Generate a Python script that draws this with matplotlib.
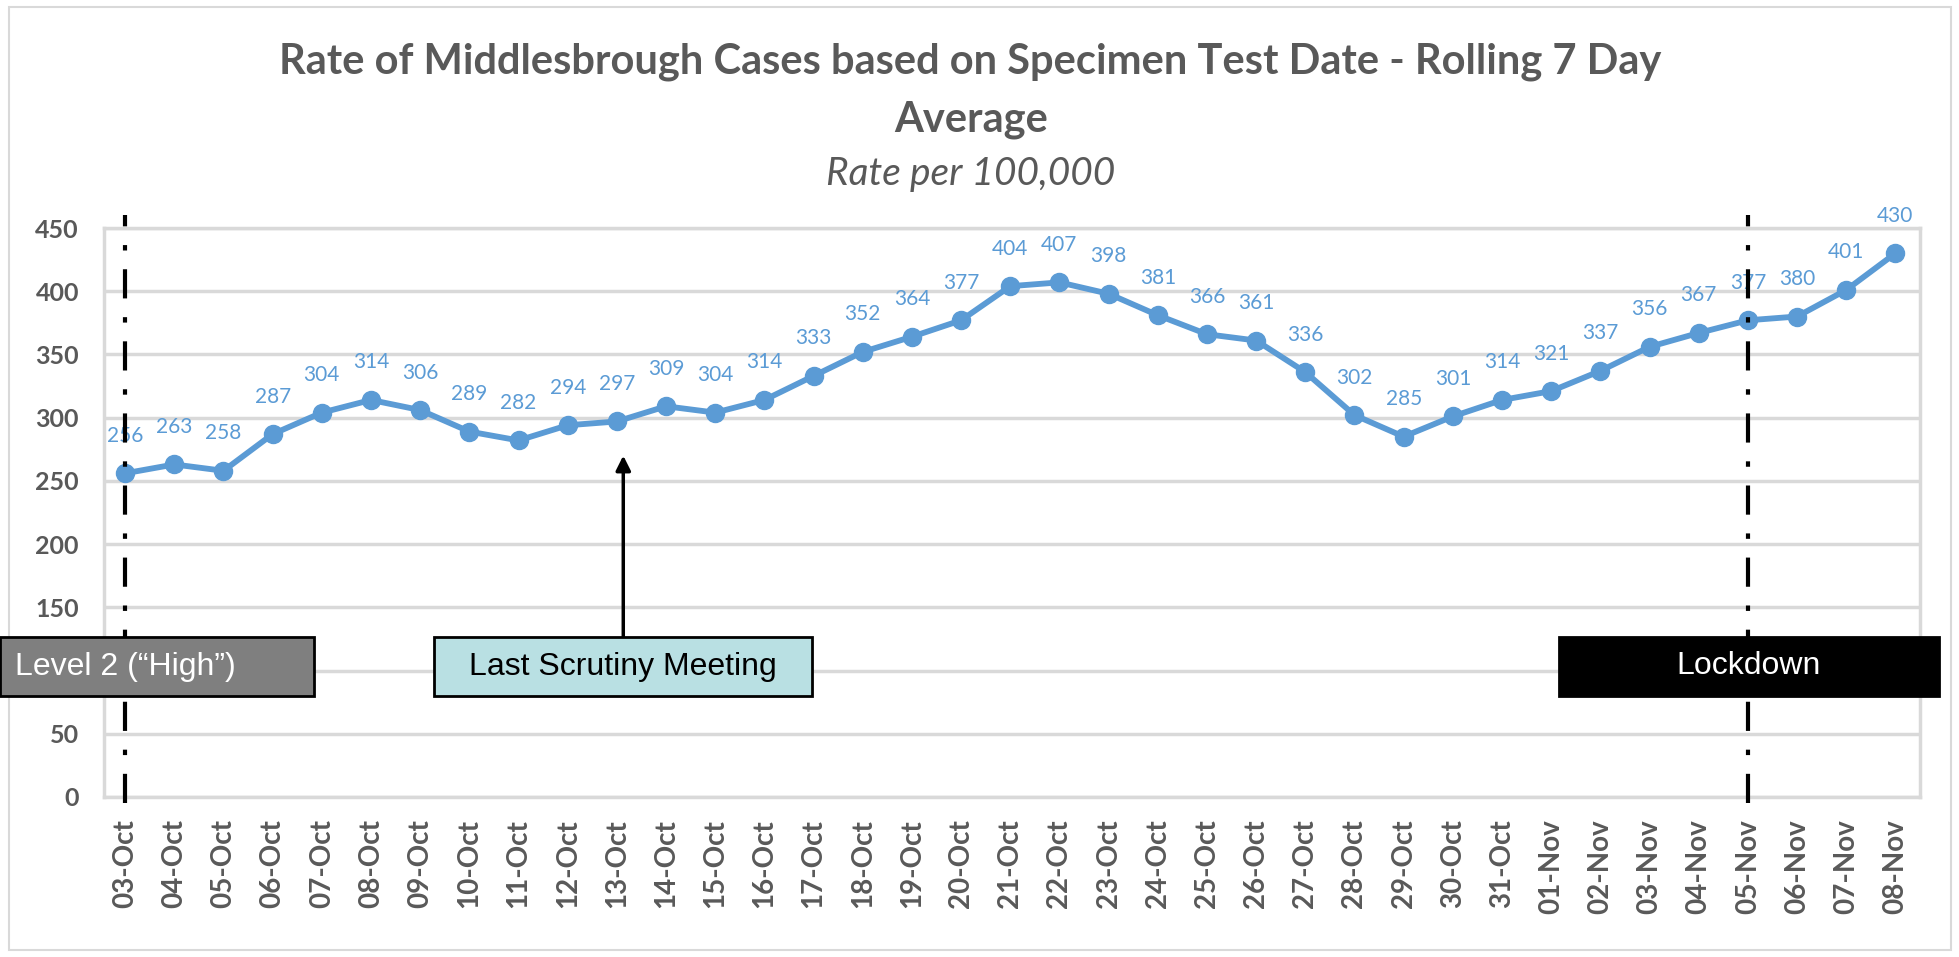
import matplotlib
matplotlib.use("Agg")
from matplotlib import pyplot as plt
from matplotlib.patches import Rectangle

# data
dates = ["03-Oct", "04-Oct", "05-Oct", "06-Oct", "07-Oct", "08-Oct", "09-Oct",
         "10-Oct", "11-Oct", "12-Oct", "13-Oct", "14-Oct", "15-Oct", "16-Oct",
         "17-Oct", "18-Oct", "19-Oct", "20-Oct", "21-Oct", "22-Oct", "23-Oct",
         "24-Oct", "25-Oct", "26-Oct", "27-Oct", "28-Oct", "29-Oct", "30-Oct",
         "31-Oct", "01-Nov", "02-Nov", "03-Nov", "04-Nov", "05-Nov", "06-Nov",
         "07-Nov", "08-Nov"]
rates = [256, 263, 258, 287, 304, 314, 306, 289, 282, 294, 297, 309, 304, 314,
         333, 352, 364, 377, 404, 407, 398, 381, 366, 361, 336, 302, 285, 301,
         314, 321, 337, 356, 367, 377, 380, 401, 430]
y_ticks = [0, 50, 100, 150, 200, 250, 300, 350, 400, 450]

level2_date = "03-Oct"
scrutiny_date = "13-Oct"
lockdown_date = "05-Nov"

W, H = 1959, 957
BLUE = "#5B9BD5"
GREY_TXT = "#595959"
GRID = "#D9D9D9"

fig = plt.figure(figsize=(W / 100, H / 100), dpi=100)
ax = fig.add_axes([104 / W, 1 - 797 / H, 1816 / W, 569 / H])

x = list(range(len(dates)))
ax.plot(x, rates, color=BLUE, lw=4.2, marker="o", ms=13, zorder=3)
for xi, v in zip(x, rates):
    ax.annotate(str(v), (xi, v), xytext=(0, 27), textcoords="offset points",
                ha="center", va="center", color=BLUE, fontsize=15,
                family="Lato", zorder=4, annotation_clip=False)

ax.set_xlim(-0.43, len(dates) - 0.5)
ax.set_ylim(0, 450)
ax.set_yticks(y_ticks)
# the 100 label sits under the "Level 2" box in the original
ax.set_yticklabels(["" if t == 100 else str(t) for t in y_ticks])
ax.set_xticks(x)
ax.set_xticklabels(dates, rotation=90)
ax.tick_params(axis="both", length=0, colors=GREY_TXT)
ax.tick_params(axis="y", pad=18, labelsize=18)
ax.tick_params(axis="x", pad=16, labelsize=20)
for lab in ax.get_xticklabels() + ax.get_yticklabels():
    lab.set_family("Lato")
    lab.set_fontweight("bold")
ax.grid(axis="y", color=GRID, lw=2.5)
ax.set_axisbelow(True)
for sp in ax.spines.values():
    sp.set_color(GRID)
    sp.set_linewidth(2.5)

# event markers
dash = (0, (7, 4.5, 1.3, 4.5))
for d in (level2_date, lockdown_date):
    xi = dates.index(d)
    ax.plot([xi, xi], [-5, 460], color="black", lw=3, linestyle=dash,
            clip_on=False, zorder=5)

xs = dates.index(scrutiny_date) + 0.13
ax.annotate("", xy=(xs, 270), xytext=(xs, 127),
            arrowprops=dict(arrowstyle="-|>", color="black", lw=2.5,
                            mutation_scale=22, shrinkA=0, shrinkB=0),
            annotation_clip=False, zorder=5)

# titles
fig.text(0.4955, 1 - 62 / H, "Rate of Middlesbrough Cases based on Specimen Test Date - Rolling 7 Day",
         ha="center", va="center", fontsize=30, color=GREY_TXT, family="Lato", fontweight="bold")
fig.text(0.4955, 1 - 120 / H, "Average", ha="center", va="center", fontsize=30,
         color=GREY_TXT, family="Lato", fontweight="bold")
fig.text(0.4955, 1 - 174 / H, "Rate per 100,000", ha="center", va="center", fontsize=28,
         color=GREY_TXT, family="Lato", style="italic")

# outer chart frame
fig.add_artist(Rectangle((9 / W, 7 / H), 1942 / W, 943 / H, transform=fig.transFigure,
                         fill=False, edgecolor=GRID, lw=1.5, zorder=0))

# label boxes (pixel positions on the figure)
boxes = [
    (0, 314, "#7F7F7F", "white", "Level 2 (\u201cHigh\u201d)", "left"),
    (434, 812, "#B9E0E3", "black", "Last Scrutiny Meeting", "center"),
    (1559, 1939, "black", "white", "Lockdown", "center"),
]
by0, by1 = 637, 696
for x0, x1, fc, tc, txt, align in boxes:
    fig.add_artist(Rectangle((x0 / W, 1 - by1 / H), (x1 - x0) / W, (by1 - by0) / H,
                             transform=fig.transFigure, facecolor=fc,
                             edgecolor="black", lw=2, zorder=10))
    tx = (x0 + 15) / W if align == "left" else (x0 + x1) / 2 / W
    fig.text(tx, 1 - (by0 + by1) / 2 / H, txt, ha=align, va="center", color=tc,
             fontsize=23, family="Liberation Sans", zorder=11)

fig.savefig("out.png", dpi=100)
